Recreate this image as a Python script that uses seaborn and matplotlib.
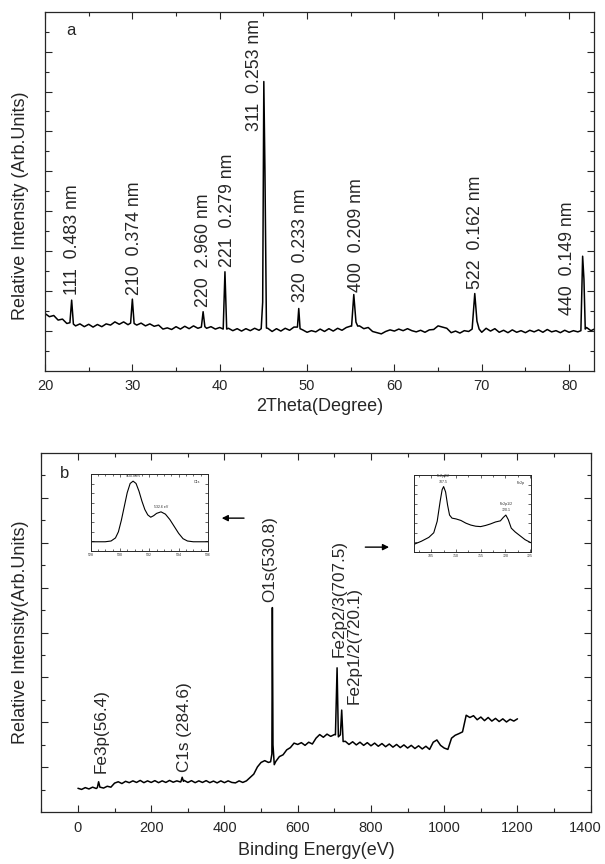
import numpy as np
import pandas as pd
import matplotlib
matplotlib.use("Agg")
import matplotlib.pyplot as plt
import matplotlib.transforms as mtransforms
import seaborn as sns

# ---- XRD (panel a) ----
# baseline read every 0.5 deg from 20 to 83
xrd_base = [2.88, 2.72, 2.78, 2.55, 2.60, 2.38, 2.48, 2.26, 2.36, 2.22,
            2.34, 2.20, 2.33, 2.22, 2.36, 2.30, 2.46, 2.34, 2.46, 2.32,
            2.42, 2.30, 2.40, 2.26, 2.36, 2.24, 2.30, 2.10, 2.16, 2.08,
            2.22, 2.10, 2.24, 2.12, 2.26, 2.14, 2.26, 2.14, 2.22, 2.10,
            2.18, 2.08, 2.14, 2.02, 2.12, 2.00, 2.12, 2.02, 2.14, 2.04,
            2.30, 2.14, 1.98, 2.12, 2.00, 2.14, 2.04, 2.20, 2.25, 2.06,
            1.94, 2.02, 1.96, 2.10, 1.98, 2.12, 2.00, 2.14, 2.04, 2.18,
            2.25, 2.40, 2.26, 2.12, 2.18, 1.98, 1.92, 1.86, 1.98, 2.06,
            2.00, 2.10, 2.02, 2.12, 2.02, 1.96, 2.04, 1.94, 2.06, 2.08,
            2.26, 2.20, 2.14, 1.92, 2.00, 1.90, 2.02, 1.98, 2.30, 2.40,
            1.94, 2.14, 2.00, 2.12, 1.94, 2.04, 1.92, 2.06, 1.94, 2.02,
            1.92, 2.04, 1.96, 2.06, 1.94, 2.08, 1.96, 2.02, 1.92, 2.04,
            1.94, 2.02, 1.96, 2.10, 2.18, 2.02, 2.12]
xrd_grid = np.arange(20.0, 83.01, 0.5)

# points read around each reflection
xrd_peak_id = [0, 0, 0, 1, 1, 1, 2, 2, 2, 3, 3, 3, 4, 4, 4, 4, 4,
               5, 5, 5, 6, 6, 6, 6, 7, 7, 7, 7, 8, 8, 8, 8]
xrd_peak_x = [22.85, 23.05, 23.25, 29.80, 30.00, 30.20, 37.90, 38.10, 38.30,
              40.40, 40.60, 40.80, 44.75, 44.92, 45.05, 45.18, 45.35,
              48.90, 49.05, 49.20, 55.10, 55.35, 55.60, 55.80,
              68.90, 69.20, 69.45, 69.70, 81.35, 81.55, 81.70, 81.85]
xrd_peak_y = [2.42, 3.55, 2.35, 2.40, 3.60, 2.38, 2.20, 2.97, 2.22,
              2.10, 4.97, 2.10, 2.12, 3.45, 14.5, 10.0, 2.15,
              2.20, 3.13, 2.12, 2.25, 3.83, 2.45, 2.25,
              2.10, 3.88, 2.50, 2.10, 2.02, 5.75, 4.60, 2.10]

xrd_labels = ["111  0.483 nm", "210  0.374 nm", "220  2.960 nm", "221  0.279 nm",
              "311  0.253 nm", "320  0.233 nm", "400  0.209 nm", "522  0.162 nm",
              "440  0.149 nm"]
xrd_label_x = [23.2, 30.3, 38.2, 40.9, 44.0, 49.3, 55.7, 69.3, 79.8]
xrd_label_y = [3.8, 3.8, 3.2, 5.2, 12.0, 3.45, 3.95, 4.1, 2.8]

# ---- XPS survey (panel b) ----
# baseline read every 10 eV from 0 to 1200
xps_base = [1.07, 1.02, 1.10, 1.04, 1.12, 1.06, 1.12, 1.08, 1.16, 1.12,
            1.30, 1.36, 1.28, 1.38, 1.32, 1.40, 1.33, 1.42, 1.32, 1.40,
            1.33, 1.41, 1.32, 1.40, 1.33, 1.42, 1.34, 1.40, 1.35, 1.42,
            1.33, 1.41, 1.32, 1.40, 1.33, 1.41, 1.32, 1.39, 1.31, 1.40,
            1.32, 1.40, 1.33, 1.31, 1.40, 1.33, 1.40, 1.55, 1.70, 2.02,
            2.22, 2.30, 2.22, 2.30, 2.26, 2.48, 2.56, 2.78, 2.88, 3.08,
            3.02, 3.10, 2.98, 3.12, 3.04, 3.30, 3.46, 3.34, 3.48, 3.38,
            3.46, 3.35, 3.20, 3.16, 3.02, 3.14, 3.00, 3.12, 2.98, 3.10,
            2.96, 3.08, 2.94, 3.06, 2.92, 3.04, 2.90, 3.02, 2.88, 3.00,
            2.86, 2.98, 2.84, 2.96, 2.82, 2.94, 2.80, 3.12, 3.22, 2.98,
            2.86, 2.80, 3.30, 3.43, 3.50, 3.58, 4.32, 4.22, 4.30, 4.12,
            4.24, 4.08, 4.22, 4.06, 4.18, 4.04, 4.16, 4.02, 4.14, 4.06,
            4.16]
xps_grid = np.arange(0.0, 1200.1, 10.0)

xps_peak_id = [0, 0, 0, 1, 1, 1, 2, 2, 2, 2, 2, 3, 3, 3, 3, 3, 3]
xps_peak_x = [53.0, 56.4, 60.0, 281.0, 284.6, 288.0,
              526.0, 529.5, 530.8, 532.5, 536.0,
              703.0, 707.5, 711.0, 716.5, 720.1, 724.0]
xps_peak_y = [1.10, 1.36, 1.12, 1.36, 1.56, 1.38,
              2.25, 2.60, 9.11, 3.00, 2.12,
              3.45, 6.43, 3.36, 3.45, 4.55, 3.15]

xps_labels = ["Fe3p(56.4)", "C1s (284.6)", "O1s(530.8)", "Fe2p2/3(707.5)", "Fe2p1/2(720.1)"]
xps_label_x = [62, 290, 524, 712, 754]
xps_label_y = [1.73, 1.80, 9.36, 6.90, 4.84]

# ---- insets ----
o1s_x = [528.0, 529.0, 529.4, 529.7, 529.9, 530.1, 530.3, 530.5, 530.7, 530.9,
         531.1, 531.3, 531.5, 531.7, 531.9, 532.1, 532.3, 532.5, 532.8, 533.1,
         533.4, 533.7, 534.0, 534.3, 534.6, 535.0, 536.0]
o1s_y = [0.12, 0.12, 0.13, 0.17, 0.25, 0.40, 0.58, 0.76, 0.88, 0.91,
         0.88, 0.78, 0.65, 0.54, 0.47, 0.44, 0.46, 0.49, 0.51, 0.48,
         0.41, 0.32, 0.23, 0.16, 0.13, 0.12, 0.12]
fe2p_x = [701.5, 703.0, 704.5, 705.5, 706.2, 706.8, 707.2, 707.5, 707.9, 708.3,
          708.7, 709.2, 710.0, 711.0, 712.0, 713.0, 714.0, 715.0, 716.0, 717.0,
          718.0, 719.0, 719.6, 720.1, 720.6, 721.2, 722.0, 723.0, 724.0, 725.2]
fe2p_y = [0.10, 0.14, 0.19, 0.25, 0.40, 0.66, 0.81, 0.85, 0.78, 0.61,
          0.48, 0.44, 0.43, 0.41, 0.375, 0.35, 0.335, 0.33, 0.345, 0.365,
          0.39, 0.405, 0.45, 0.48, 0.42, 0.31, 0.26, 0.21, 0.16, 0.12]


def merge(grid, base, pid, px, py):
    grid = np.asarray(grid)
    base = np.asarray(base)
    df_pk = pd.DataFrame({"id": pid, "x": px, "y": py})
    keep = np.ones(len(grid), bool)
    for _, g in df_pk.groupby("id"):
        keep &= ~((grid >= g.x.min()) & (grid <= g.x.max()))
    df = pd.concat([pd.DataFrame({"x": grid[keep], "y": base[keep]}),
                    df_pk[["x", "y"]]]).sort_values("x")
    return df


assert len(xrd_base) == len(xrd_grid)
assert len(xps_base) == len(xps_grid)
xrd = merge(xrd_grid, xrd_base, xrd_peak_id, xrd_peak_x, xrd_peak_y)
xps = merge(xps_grid, xps_base, xps_peak_id, xps_peak_x, xps_peak_y)

sns.set_style("ticks", {"xtick.direction": "in", "ytick.direction": "in"})
plt.rcParams["font.family"] = ["Liberation Sans", "DejaVu Sans"]
plt.rcParams["axes.linewidth"] = 0.9

fig = plt.figure(figsize=(6.05, 8.64), dpi=100)
ax1 = fig.add_axes([0.0744, 0.5706, 0.9074, 0.4159])
ax2 = fig.add_axes([0.0683, 0.0598, 0.9081, 0.4162])

# panel a
sns.lineplot(data=xrd, x="x", y="y", ax=ax1, color="black", lw=1.1,
             estimator=None, sort=False)
ax1.set_xlim(20, 82.85)
ax1.set_ylim(0, 18)
ax1.set_xticks(np.arange(20, 81, 10))
ax1.set_xticks(np.arange(25, 83, 5), minor=True)
ax1.set_yticks(np.arange(2, 18, 2))
ax1.set_yticks(np.arange(1, 18, 2), minor=True)
for t, x, y in zip(xrd_labels, xrd_label_x, xrd_label_y):
    ax1.text(x, y, t, rotation=90, ha="center", va="bottom", fontsize=12.8)
ax1.text(0.039, 0.935, "a", transform=ax1.transAxes, fontsize=12)
ax1.set_xlabel("2Theta(Degree)", fontsize=13)
ax1.set_ylabel("Relative Intensity (Arb.Units)", fontsize=13)
ax1.xaxis.set_label_coords(0.5, -0.075)
ax1.yaxis.set_label_coords(-0.03, 0.459)

# panel b
sns.lineplot(data=xps, x="x", y="y", ax=ax2, color="black", lw=1.1,
             estimator=None, sort=False)
ax2.set_xlim(-100, 1400)
ax2.set_ylim(0, 16)
ax2.set_xticks(np.arange(0, 1401, 200))
ax2.set_xticks(np.arange(-100, 1400, 100), minor=True)
ax2.set_yticks(np.arange(2, 16, 2))
ax2.set_yticks(np.arange(1, 16, 2), minor=True)
for t, x, y in zip(xps_labels, xps_label_x, xps_label_y):
    ax2.text(x, y, t, rotation=90, ha="center", va="bottom", fontsize=12.3)
ax2.text(0.033, 0.93, "b", transform=ax2.transAxes, fontsize=12)
ax2.set_xlabel("Binding Energy(eV)", fontsize=13)
ax2.set_ylabel("Relative Intensity(Arb.Units)", fontsize=13)
ax2.xaxis.set_label_coords(0.5, -0.083)
ax2.yaxis.set_label_coords(-0.0224, 0.5)

ax2.annotate("", xy=(385, 13.09), xytext=(461, 13.09),
             arrowprops=dict(arrowstyle="-|>", color="black", lw=1.0, mutation_scale=9))
ax2.annotate("", xy=(857, 11.8), xytext=(777, 11.8),
             arrowprops=dict(arrowstyle="-|>", color="black", lw=1.0, mutation_scale=9))

for ax in (ax1, ax2):
    ax.tick_params(which="both", direction="in", top=True, right=True,
                   labelleft=False, labelsize=10.5, pad=6)
    ax.tick_params(which="major", length=5, width=0.8)
    ax.tick_params(which="minor", length=3, width=0.8)
    for s in ax.spines.values():
        s.set_visible(True)

# keep the last tick label inside the figure edge
last = ax2.get_xticklabels()[-1]
last.set_transform(last.get_transform() +
                   mtransforms.ScaledTranslation(-0.05, 0, fig.dpi_scale_trans))

# insets
in1 = fig.add_axes([0.1496, 0.3623, 0.1942, 0.0888])
sns.lineplot(x=o1s_x, y=o1s_y, ax=in1, color="black", lw=0.8, estimator=None, sort=False)
in1.set_xlim(528, 536)
in1.set_ylim(0, 1)
in1.set_xticks(np.arange(528, 537, 2))
in1.set_xticks(np.arange(528, 536.1, 0.5), minor=True)
in1.set_yticks(np.arange(0, 1.01, 0.125))
in1.text(530.9, 0.95, "530.8 eV", fontsize=2.5, ha="center", va="bottom")
in1.text(532.8, 0.55, "532.6 eV", fontsize=2.5, ha="center", va="bottom")
in1.text(0.93, 0.88, "O1s", fontsize=2.5, ha="right", transform=in1.transAxes)

in2 = fig.add_axes([0.6843, 0.3611, 0.1934, 0.0891])
sns.lineplot(x=fe2p_x, y=fe2p_y, ax=in2, color="black", lw=0.8, estimator=None, sort=False)
in2.set_xlim(701.5, 725.2)
in2.set_ylim(0, 1)
in2.set_xticks(np.arange(705, 726, 5))
in2.set_xticks(np.arange(702.5, 725.2, 2.5), minor=True)
in2.set_yticks(np.arange(0, 1.01, 0.125))
in2.text(707.5, 0.88, "Fe2p3/2\n707.5", fontsize=2.5, ha="center", va="bottom",
         linespacing=1.6)
in2.text(720.1, 0.52, "Fe2p1/2\n720.1", fontsize=2.5, ha="center", va="bottom",
         linespacing=1.6)
in2.text(0.95, 0.88, "Fe2p", fontsize=2.5, ha="right", transform=in2.transAxes)

for ax in (in1, in2):
    ax.set_xlabel("")
    ax.set_ylabel("")
    ax.tick_params(which="both", direction="in", top=True, right=True,
                   labelleft=False, labelsize=2.5, pad=1.5, width=0.5)
    ax.tick_params(which="major", length=2)
    ax.tick_params(which="minor", length=1.2)
    for s in ax.spines.values():
        s.set_linewidth(0.7)

fig.savefig("out.png", dpi=100)
